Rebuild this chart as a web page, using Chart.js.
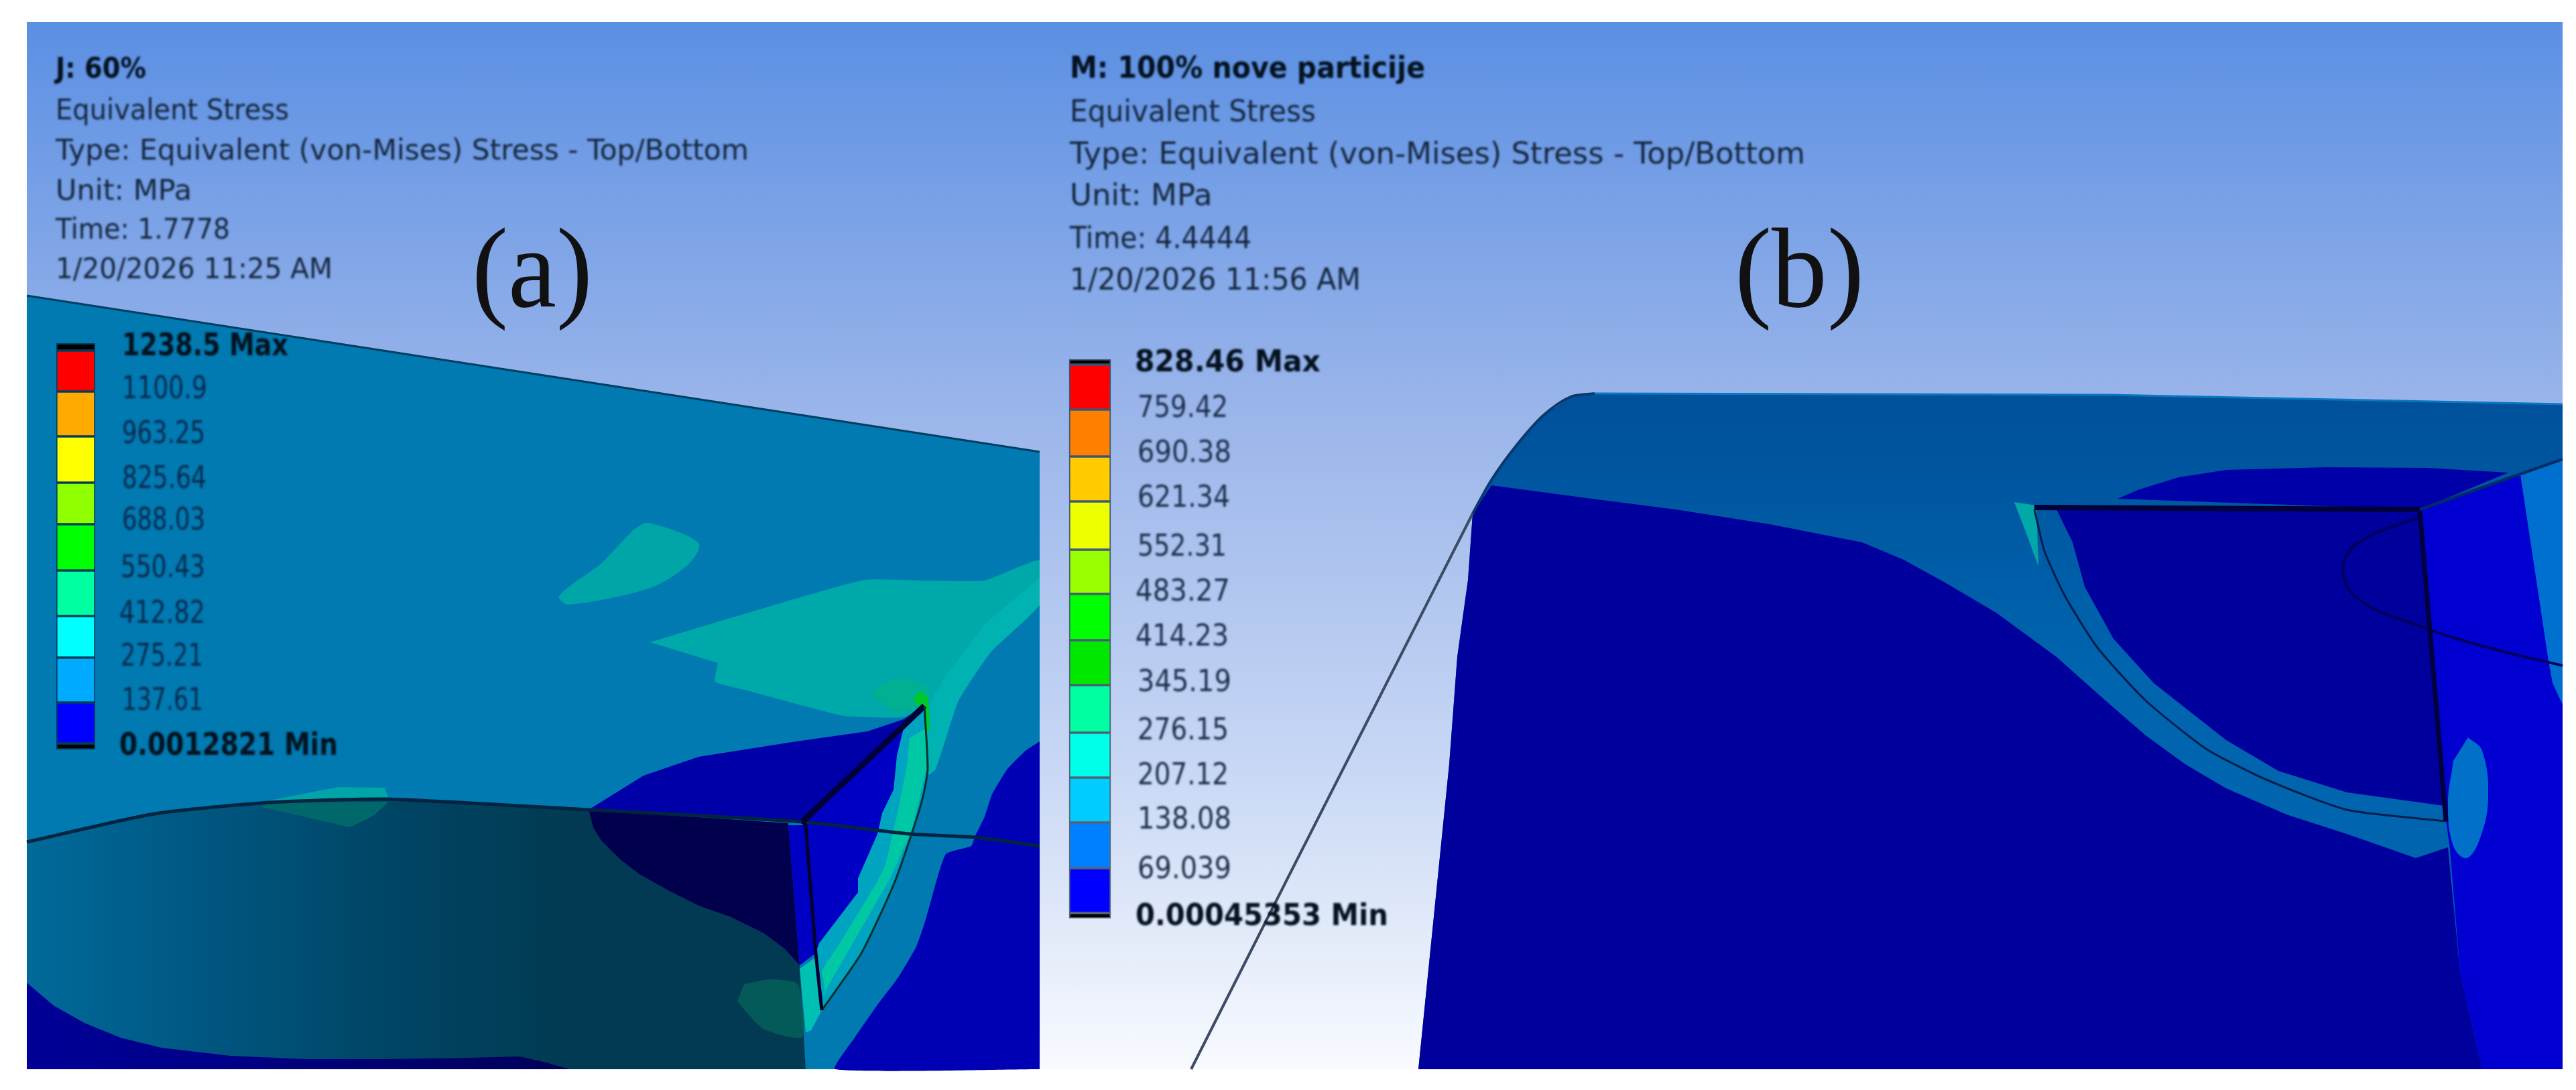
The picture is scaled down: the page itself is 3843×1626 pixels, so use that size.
<!DOCTYPE html>
<html lang="en">
<head>
    <meta charset="UTF-8">
    <title>Equivalent Stress</title>
    <script src="https://cdn.jsdelivr.net/npm/chart.js"></script>
    <style>
        html, body { margin: 0; padding: 0; background: #fff; }
        canvas { display: block; }
    </style>
</head>
<body>
<canvas id="stress" width="3843" height="1626"></canvas>

<script>
    // text blocks, left panel
    const headerA = ['J: 60%', 'Equivalent Stress', 'Type: Equivalent (von-Mises) Stress - Top/Bottom', 'Unit: MPa', 'Time: 1.7778', '1/20/2026 11:25 AM'];
    const headerA_y = [116, 178, 238, 298, 356, 415];
    const headerA_right = [218, 431, 1117, 288, 343, 496];
    const ticksA = ['1238.5 Max', '1100.9', '963.25', '825.64', '688.03', '550.43', '412.82', '275.21', '137.61', '0.0012821 Min'];
    const ticksA_y = [530, 594, 661, 728, 790, 861, 929, 993, 1059, 1126];
    const ticksA_left = [182, 182, 182, 182, 182, 180, 178, 180, 182, 178];
    const ticksA_right = [430, 309, 306, 308, 306, 306, 306, 303, 303, 504];
    const bandEdgesA = [512, 523, 584, 651, 720, 782, 851, 919, 981, 1048, 1109, 1118];
    const bandColorsA = ['#000000', '#ff0000', '#ffaa00', '#ffff00', '#90ff00', '#00ff00', '#00ffa0', '#00ffff', '#00aaff', '#0000ff', '#000000'];

    // text blocks, right panel
    const headerB = ['M: 100% nove particije', 'Equivalent Stress', 'Type: Equivalent (von-Mises) Stress - Top/Bottom', 'Unit: MPa', 'Time: 4.4444', '1/20/2026 11:56 AM'];
    const headerB_y = [116, 181, 244, 306, 370, 432];
    const headerB_right = [2126, 1963, 2693, 1810, 1867, 2030];
    const ticksB = ['828.46 Max', '759.42', '690.38', '621.34', '552.31', '483.27', '414.23', '345.19', '276.15', '207.12', '138.08', '69.039', '0.00045353 Min'];
    const ticksB_y = [554, 622, 689, 756, 829, 896, 963, 1031, 1103, 1170, 1236, 1310, 1380];
    const ticksB_left = [1693, 1697, 1697, 1697, 1697, 1694, 1694, 1697, 1697, 1697, 1697, 1697, 1694];
    const ticksB_right = [1970, 1832, 1837, 1835, 1830, 1835, 1833, 1837, 1833, 1833, 1837, 1837, 2071];
    const bandEdgesB = [536, 544, 611, 681, 748, 820, 886, 955, 1022, 1093, 1160, 1227, 1295, 1362, 1370];
    const bandColorsB = ['#000000', '#ff0000', '#ff8000', '#ffcc00', '#eeff00', '#99ff00', '#00ff00', '#00e800', '#00ffa0', '#00ffe8', '#00ccff', '#0080ff', '#0000ff', '#000000'];

    // contour regions, left panel
    const skyA = [[40, 33], [1551, 33], [1551, 1595], [40, 1595]];
    const plateA = [[40, 441], [1551, 674], [1551, 1595], [40, 1595]];
    const patchUpperA = [[945, 790], [967, 780], [1042, 810], [1028, 841], [970, 877], [848, 902], [834, 889], [897, 841]];
    const patchLargeA = [[970, 958], [1130, 910], [1290, 865], [1380, 866], [1469, 866], [1551, 836], [1551, 902], [1478, 973], [1430, 1045], [1396, 1147], [1382, 1157], [1379, 1055], [1348, 1070], [1260, 1068], [1188, 1050], [1115, 1030], [1067, 1017], [1071, 989]];
    const bandRightA = [[1551, 862], [1551, 902], [1478, 973], [1430, 1045], [1396, 1147], [1382, 1157], [1382, 1060], [1410, 1010], [1470, 930]];
    const blobGreenA = [[1299, 1035], [1333, 1014], [1382, 1024], [1379, 1055], [1333, 1060]];
    const tipGreenA = [[1362, 1044], [1372, 1032], [1384, 1040], [1386, 1090], [1375, 1090], [1376, 1058]];
    const regionLowerRightA = [[1551, 1106], [1530, 1120], [1503, 1147], [1480, 1185], [1469, 1218], [1454, 1249], [1449, 1262], [1411, 1274], [1391, 1336], [1380, 1375], [1367, 1412], [1340, 1458], [1309, 1499], [1275, 1548], [1246, 1595], [1551, 1595]];
    const regionShadowA = [[40, 1256], [230, 1214], [402, 1197], [574, 1192], [861, 1207], [878, 1208], [885, 1235], [897, 1254], [925, 1282], [955, 1305], [1000, 1330], [1042, 1351], [1090, 1368], [1139, 1392], [1170, 1415], [1193, 1440], [1202, 1595], [40, 1595]];
    const regionCornerA = [[40, 1466], [80, 1500], [126, 1526], [180, 1548], [241, 1563], [344, 1575], [459, 1580], [574, 1580], [700, 1578], [775, 1576], [815, 1585], [850, 1595], [40, 1595]];
    const regionNavyA = [[878, 1208], [1176, 1228], [1193, 1440], [1170, 1415], [1139, 1392], [1090, 1368], [1042, 1351], [1000, 1330], [955, 1305], [925, 1282], [897, 1254], [885, 1235]];
    const stripBlueA = [[1176, 1231], [1202, 1231], [1217, 1422], [1193, 1440]];
    const regionTopBlueA = [[878, 1208], [960, 1157], [1042, 1129], [1188, 1106], [1294, 1091], [1348, 1073], [1379, 1053], [1197, 1226]];
    const regionSideBlueA = [[1197, 1223], [1379, 1053], [1348, 1086], [1338, 1127], [1333, 1178], [1316, 1213], [1309, 1244], [1280, 1310], [1280, 1331], [1222, 1407], [1217, 1422], [1202, 1231]];
    const sliverCyanA = [[1379, 1053], [1384, 1147], [1377, 1188], [1360, 1244], [1333, 1320], [1285, 1422], [1226, 1507], [1217, 1422], [1222, 1407], [1280, 1331], [1280, 1310], [1309, 1244], [1316, 1213], [1333, 1178], [1338, 1127], [1348, 1086]];
    const sliverGreenA = [[1357, 1101], [1382, 1086], [1382, 1147], [1360, 1239], [1328, 1310], [1275, 1402], [1231, 1479], [1226, 1448], [1256, 1402], [1309, 1315], [1321, 1290], [1340, 1208], [1353, 1142]];
    const footTealA = [[1193, 1445], [1217, 1428], [1226, 1507], [1210, 1537], [1202, 1540]];
    const patchDarkA = [[1110, 1468], [1149, 1461], [1190, 1468], [1197, 1547], [1139, 1535], [1100, 1494]];
    const capTealA = [[402, 1194], [505, 1174], [574, 1175], [580, 1192]];
    const capDarkA = [[390, 1204], [402, 1197], [580, 1196], [557, 1217], [522, 1234], [448, 1217]];

    // edges, left panel
    const edgePlateA = [[40, 441], [1551, 674]];
    const edgeArcA = [[40, 1256], [230, 1214], [402, 1197], [574, 1192], [861, 1207], [1197, 1226], [1357, 1244], [1454, 1249], [1551, 1262]];
    const edgeDiagA = [[1197, 1226], [1379, 1053]];
    const edgeCurveA = [[1379, 1053], [1384, 1147], [1377, 1188], [1360, 1244], [1333, 1320], [1285, 1422], [1226, 1507]];
    const edgeStemA = [[1226, 1507], [1217, 1422], [1202, 1231], [1197, 1226]];

    // contour regions, right panel
    const skyB = [[1551, 33], [3823, 33], [3823, 1595], [1551, 1595]];
    const plateB = [[2197, 766], [2225, 716], [2261, 666], [2302, 620], [2343, 592], [2379, 587], [3146, 589], [3823, 603], [3823, 1595], [2116, 1595], [2162, 1140], [2174, 980], [2190, 865]];
    const regionMainB = [[2197, 766], [2225, 724], [2360, 742], [2500, 760], [2640, 782], [2778, 809], [2840, 835], [2900, 868], [2978, 914], [3068, 980], [3141, 1045], [3201, 1097], [3260, 1140], [3321, 1176], [3411, 1215], [3501, 1244], [3604, 1280], [3652, 1264], [3670, 1450], [3703, 1595], [2116, 1595], [2162, 1140], [2174, 980], [2190, 865]];
    const regionBrightB = [[3610, 760], [3760, 705], [3823, 690], [3823, 1595], [3703, 1595], [3670, 1450], [3655, 1267], [3649, 1222]];
    const bandFarRightB = [[3760, 708], [3823, 686], [3823, 1051], [3808, 1019], [3802, 986]];
    const blobB = [[3682, 1100], [3703, 1120], [3712, 1190], [3700, 1250], [3680, 1280], [3660, 1262], [3652, 1200], [3660, 1135]];
    const regionInnerB = [[3068, 760], [3610, 760], [3649, 1222], [3646, 1202], [3501, 1182], [3399, 1150], [3321, 1104], [3213, 1019], [3153, 953], [3110, 875], [3092, 809]];
    const regionTopB = [[3159, 744], [3189, 731], [3250, 712], [3321, 701], [3470, 697], [3622, 698], [3742, 705], [3610, 760]];
    const sliverTealB = [[3005, 749], [3038, 754], [3041, 845], [3023, 796]];

    // edges, right panel
    const edgeOutlineB = [[1777, 1595], [1920, 1312], [2197, 766]];
    const edgeCornerB = [[2197, 766], [2225, 716], [2261, 666], [2302, 620], [2343, 592], [2379, 587]];
    const edgeTopB = [[2379, 587], [3146, 589], [3823, 603]];
    const edgeChordB = [[3035, 757], [3610, 760]];
    const edgeSlopeB = [[3610, 760], [3823, 685]];
    const edgeStemB = [[3610, 762], [3649, 1225]];
    const edgeCurveB = [[3035, 760], [3050, 822], [3080, 888], [3129, 966], [3201, 1045], [3291, 1117], [3381, 1163], [3501, 1208], [3649, 1225]];
    const edgeLoopB = [[3610, 771], [3519, 809], [3495, 849], [3519, 894], [3610, 934], [3712, 966], [3823, 993]];

    function toPoints(list) {
        return list.map(p => ({ x: p[0], y: p[1] }));
    }

    function region(list, color, tension) {
        return {
            type: 'scatter', data: toPoints(list), showLine: true, fill: 'shape',
            backgroundColor: color, borderWidth: 0, pointRadius: 0, tension: tension || 0
        };
    }

    function edge(list, color, width, tension) {
        return {
            type: 'scatter', data: toPoints(list), showLine: true, fill: false,
            borderColor: color, borderWidth: width, pointRadius: 0, tension: tension || 0
        };
    }

    function colorBar(edges, colors, centre, thickness) {
        return colors.map((color, i) => ({
            type: 'bar', data: [{ x: centre, y: [edges[i], edges[i + 1]] }],
            backgroundColor: color, borderColor: 'rgba(0,25,40,0.6)', borderWidth: 2,
            borderSkipped: false, barThickness: thickness, grouped: false
        }));
    }

    function skyGradient(c) {
        const chart = c.chart;
        if (!chart.chartArea) return '#9ab5ea';
        const g = chart.ctx.createLinearGradient(0, chart.scales.y.getPixelForValue(33), 0, chart.scales.y.getPixelForValue(1595));
        g.addColorStop(0, '#5b8fe3');
        g.addColorStop(0.37, '#9ab5ea');
        g.addColorStop(0.7, '#c6d6f4');
        g.addColorStop(1, '#f8fafe');
        return g;
    }

    function shadowGradient(stops) {
        return function (c) {
            const chart = c.chart;
            if (!chart.chartArea) return stops[0];
            const g = chart.ctx.createLinearGradient(chart.scales.x.getPixelForValue(40), 0, chart.scales.x.getPixelForValue(850), 0);
            stops.forEach((s, i) => g.addColorStop(i / (stops.length - 1), s));
            return g;
        };
    }

    function panelBand(c) {
        const chart = c.chart;
        if (!chart.chartArea) return '#00559f';
        const g = chart.ctx.createLinearGradient(0, chart.scales.y.getPixelForValue(590), 0, chart.scales.y.getPixelForValue(1000));
        g.addColorStop(0, '#00509a');
        g.addColorStop(1, '#0064ae');
        return g;
    }

    // painter's order: first in this list ends up at the back
    const layers = [
        region(skyA, skyGradient),
        region(plateA, '#007ab1'),
        region(patchUpperA, '#00a5a8', 0.3),
        region(patchLargeA, '#00a9a9', 0.15),
        region(bandRightA, '#00b2b2', 0.15),
        region(blobGreenA, '#00b090', 0.4),
        region(tipGreenA, '#00c828', 0.2),
        region(regionLowerRightA, '#0000b4', 0.15),
        region(regionShadowA, shadowGradient(['#006a9a', '#005680', '#004565', '#013a52'])),
        region(regionCornerA, shadowGradient(['#000096', '#00008a', '#000070', '#000058'])),
        region(regionNavyA, '#00004c'),
        region(stripBlueA, '#0000c4'),
        region(regionTopBlueA, '#0000a8'),
        region(sliverCyanA, '#00a4c0'),
        region(regionSideBlueA, '#0000c4'),
        region(sliverGreenA, '#00c8a4'),
        region(footTealA, '#00c0b4'),
        region(patchDarkA, '#035a58', 0.2),
        region(capTealA, '#00a5a8'),
        region(capDarkA, '#00686a'),
        edge(edgePlateA, '#003e63', 3),
        edge(edgeArcA, '#022440', 5, 0.2),
        edge(edgeDiagA, '#00003a', 9),
        edge(edgeCurveA, '#00332e', 3, 0.2),
        edge(edgeStemA, '#00002c', 5),

        region(skyB, skyGradient),
        region(plateB, panelBand),
        region(regionMainB, '#00009c'),
        region(regionBrightB, '#0000d0'),
        region(bandFarRightB, '#0070d0'),
        region(blobB, '#0070c8', 0.4),
        region(regionInnerB, '#00009c'),
        region(regionTopB, '#0000a8'),
        region(sliverTealB, '#00a8a8'),
        edge(edgeOutlineB, '#3c4c66', 4),
        edge(edgeCornerB, '#0a3a6c', 4, 0.3),
        edge(edgeTopB, '#0878c0', 3),
        edge(edgeChordB, '#00003c', 8),
        edge(edgeSlopeB, '#002c66', 4),
        edge(edgeLoopB, '#00005c', 4, 0.4),
        edge(edgeStemB, '#00003c', 7),
        edge(edgeCurveB, '#00204c', 3, 0.2)
    ]
        .concat(colorBar(bandEdgesA, bandColorsA, 113, 58))
        .concat(colorBar(bandEdgesB, bandColorsB, 1626, 62));

    layers.forEach((d, i) => { d.order = layers.length - i; });

    function drawBlock(chart, lines, ys, lefts, rights, size, boldRows, color) {
        const ctx = chart.ctx;
        lines.forEach((text, i) => {
            const left = Array.isArray(lefts) ? lefts[i] : lefts;
            const bold = boldRows.includes(i);
            ctx.font = (bold ? 'bold ' : '') + size + 'px "DejaVu Sans"';
            ctx.fillStyle = bold ? '#04121f' : color;
            ctx.fillText(text, chart.scales.x.getPixelForValue(left), chart.scales.y.getPixelForValue(ys[i]), rights[i] - left);
        });
    }

    const textPlugin = {
        id: 'panelText',
        afterDatasetsDraw(chart) {
            const ctx = chart.ctx;
            ctx.save();
            ctx.filter = 'blur(1.4px)';
            ctx.textBaseline = 'alphabetic';
            ctx.textAlign = 'left';
            drawBlock(chart, headerA, headerA_y, 83, headerA_right, 43, [0], '#14263c');
            drawBlock(chart, ticksA, ticksA_y, ticksA_left, ticksA_right, 46, [0, 9], '#072a4e');
            drawBlock(chart, headerB, headerB_y, 1596, headerB_right, 45, [0], '#14263c');
            drawBlock(chart, ticksB, ticksB_y, ticksB_left, ticksB_right, 45, [0, 12], '#1c2f4c');
            ctx.filter = 'none';
            ctx.fillStyle = '#111';
            ctx.font = '170px "Liberation Serif"';
            ctx.fillText('(a)', chart.scales.x.getPixelForValue(704), chart.scales.y.getPixelForValue(457), 180);
            ctx.fillText('(b)', chart.scales.x.getPixelForValue(2588), chart.scales.y.getPixelForValue(457), 193);
            ctx.restore();
        }
    };

    new Chart(document.getElementById('stress').getContext('2d'), {
        type: 'scatter',
        data: { datasets: layers },
        plugins: [textPlugin],
        options: {
            responsive: false,
            animation: false,
            layout: { padding: 0 },
            plugins: { legend: { display: false }, tooltip: { enabled: false }, title: { display: false } },
            scales: {
                x: { type: 'linear', min: 0, max: 3843, display: false, offset: false },
                y: { type: 'linear', min: 0, max: 1626, reverse: true, display: false, beginAtZero: false }
            }
        }
    });
</script>
</body>
</html>
